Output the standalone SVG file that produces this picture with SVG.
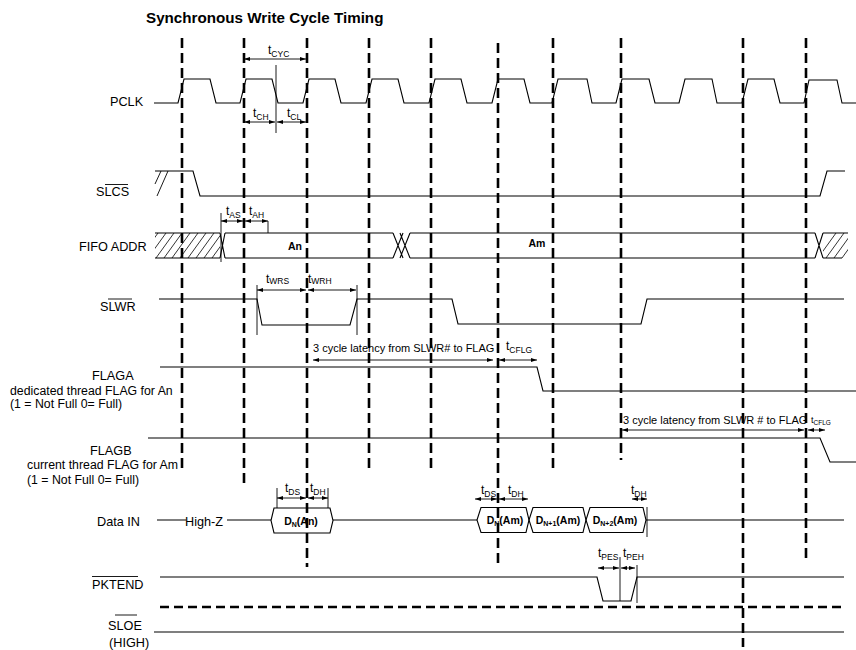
<svg xmlns="http://www.w3.org/2000/svg" width="856" height="650" viewBox="0 0 856 650">
<style>
text{font-family:"Liberation Sans",Arial,sans-serif;fill:#000}
.lbl{font-size:12.7px}
.dsc{font-size:12.3px}
.t{font-size:12px}
.sub{font-size:8.5px}
.lat{font-size:11px}
.box{font-size:10.5px;font-weight:bold}
.bsub{font-size:7px}
.sig{fill:none;stroke:#000;stroke-width:1.1}
.thin{fill:none;stroke:#000;stroke-width:0.9}
.grid{fill:none;stroke:#000;stroke-width:2.6;stroke-dasharray:10,5}
.hdash{fill:none;stroke:#000;stroke-width:2.4;stroke-dasharray:9,5}
.arr{fill:none;stroke:#000;stroke-width:0.9;marker-start:url(#ah);marker-end:url(#ah)}
.hatch{stroke:#000;stroke-width:0.8}
</style>
<defs>
<marker id="ah" viewBox="0 0 10 10" refX="10" refY="5" markerWidth="6" markerHeight="6" orient="auto-start-reverse" markerUnits="userSpaceOnUse"><path d="M0,1.5 L10,5 L0,8.5 z" fill="#000"/></marker>
<clipPath id="hl"><rect x="155" y="233" width="65" height="25"/></clipPath>
<clipPath id="hr"><rect x="823" y="233" width="25" height="25"/></clipPath>
</defs>
<rect width="856" height="650" fill="#fff"/>
<text x="146" y="23" style="font-size:15.2px;font-weight:bold">Synchronous Write Cycle Timing</text>

<g id="grid">
<path class="grid" d="M182,38V470M244,38V483M307,38V567M369,38V470M431,38V470M498,43V563M553,38V470M621,38V460M743,38V647M806,38V558"/>
<path class="hdash" d="M160,607H844"/>
</g>

<g id="pclk">
<text class="lbl" x="110" y="106">PCLK</text>
<path class="sig" d="M154,103 L178,103 L184,79 L210,79 L216,103 L240,103 L246,79 L272,79 L278,103 L303,103 L309,79 L335,79 L341,103 L366,103 L372,79 L398,79 L404,103 L429,103 L435,79 L461,79 L467,103 L492,103 L498,79 L524,79 L530,103 L552,103 L558,79 L587,79 L592,103 L616,103 L622,79 L649,79 L655,103 L679,103 L685,79 L712,79 L717,103 L742,103 L748,79 L774,79 L780,103 L804,103 L809,80 L837,80 L842,103 L856,103"/>
</g>

<g id="slcs">
<text class="lbl" x="96" y="196">SLCS</text>
<path class="thin" d="M105,184.5H128"/>
<path class="sig" d="M155,171 L193,171 L200,196 L820,196 L827,171 L845,171"/>
<path class="thin" d="M155,184 L161,171 M157,196 L168,171"/>
</g>

<g id="fifoaddr">
<text class="lbl" x="79" y="251">FIFO ADDR</text>
<g clip-path="url(#hl)">
<path class="hatch" d="M140,258L158,233M148,258L166,233M156,258L174,233M164,258L182,233M172,258L190,233M180,258L198,233M188,258L206,233M196,258L214,233M204,258L222,233M212,258L230,233"/>
</g>
<g clip-path="url(#hr)">
<path class="hatch" d="M818,258L836,233M826,258L844,233M834,258L852,233M842,258L860,233"/>
</g>
<path class="sig" d="M155,233H220M225,233H393M410,233H815M823,233H848M155,258H220M225,258H393M410,258H815M823,258H842"/>
<path class="sig" d="M220,233L225,258M220,258L225,233M393,233L403,258M393,258L403,233M400,233L410,258M400,258L410,233M815,233L823,258M815,258L823,233"/>
<text class="box" x="295" y="250" text-anchor="middle">An</text>
<text class="box" x="537" y="247" text-anchor="middle">Am</text>
</g>

<g id="slwr">
<text class="lbl" x="100" y="311">SLWR</text>
<path class="thin" d="M108,299H132"/>
<path class="sig" d="M159,299 L257,299 L262,325 L350,325 L357,299 L452,299 L458,324 L641,324 L647,299 L844,299"/>
</g>

<g id="flaga">
<text class="lbl" x="92" y="380">FLAGA</text>
<text class="dsc" x="10" y="395">dedicated thread FLAG for An</text>
<text class="dsc" x="10" y="408">(1 = Not Full 0= Full)</text>
<path class="sig" d="M160,367 L537,367 L543,391 L856,391"/>
</g>

<g id="flagb">
<text class="lbl" x="90" y="455">FLAGB</text>
<text class="dsc" x="27" y="469">current thread FLAG for Am</text>
<text class="dsc" x="27" y="484">(1 = Not Full 0= Full)</text>
<path class="sig" d="M148,438 L820,438 L830,462 L856,462"/>
</g>

<g id="datain">
<text class="lbl" x="97" y="526">Data IN</text>
<text class="lbl" x="185" y="526">High-Z</text>
<path class="sig" d="M157,520H186M227,520H271M333,520H477M646,520H844"/>
<path class="sig" d="M271,520.5 L274,508 L330,508 L333,520.5 L330,533 L274,533 Z"/>
<path class="sig" d="M477,520 L481,507.5 L526,507.5 L529,520 L526,532.5 L481,532.5 Z"/>
<path class="sig" d="M529,520 L533,507.5 L583,507.5 L586,520 L583,532.5 L533,532.5 Z"/>
<path class="sig" d="M586,520 L590,507.5 L643,507.5 L646,520 L643,532.5 L590,532.5 Z"/>
<text class="box" x="301" y="525" text-anchor="middle">D<tspan class="bsub" dy="2">N</tspan><tspan dy="-2">(An)</tspan></text>
<text class="box" x="505" y="524" text-anchor="middle">D<tspan class="bsub" dy="2">N</tspan><tspan dy="-2">(Am)</tspan></text>
<text class="box" x="558" y="524" text-anchor="middle">D<tspan class="bsub" dy="2">N+1</tspan><tspan dy="-2">(Am)</tspan></text>
<text class="box" x="615" y="524" text-anchor="middle">D<tspan class="bsub" dy="2">N+2</tspan><tspan dy="-2">(Am)</tspan></text>
</g>

<g id="pktend">
<text class="lbl" x="92" y="589">PKTEND</text>
<path class="thin" d="M92,576.5H138"/>
<path class="sig" d="M160,577 L597,577 L603,601 L631,601 L637,577 L844,577"/>
</g>

<g id="sloe">
<text class="lbl" x="108" y="630">SLOE</text>
<path class="thin" d="M115,615H137"/>
<text class="lbl" x="109" y="647">(HIGH)</text>
<path class="sig" d="M154,632H844"/>
</g>

<g id="connectors">
<path class="thin" d="M276,65V133M221,213V262M268,221V233M257,285V335M357,285V335M277,488V508M328,488V508M647,507V537M620,557V601M637,565V603"/>
<path class="arr" d="M244,59H306"/>
<path class="arr" d="M244,122H275"/>
<path class="arr" d="M277,122H306"/>
<path class="arr" d="M221,221H243"/>
<path class="arr" d="M245,221H268"/>
<path class="arr" d="M257,290H306"/>
<path class="arr" d="M308,290H356"/>
<path class="arr" d="M313,360H493"/>
<path class="arr" d="M499,360H537"/>
<path class="arr" d="M622,430H804"/>
<path class="arr" d="M808,430H825"/>
<path class="arr" d="M277,498H306"/>
<path class="arr" d="M308,498H328"/>
<path class="arr" d="M475,499H497"/>
<path class="arr" d="M499,499H528"/>
<path class="arr" d="M632,499H647"/>
<path class="arr" d="M598,568H619"/>
<path class="arr" d="M621,568H635"/>
</g>

<g id="annotations">
<text class="t" x="268" y="54">t<tspan class="sub" dy="3">CYC</tspan></text>
<text class="t" x="253" y="117">t<tspan class="sub" dy="3">CH</tspan></text>
<text class="t" x="287" y="117">t<tspan class="sub" dy="3">CL</tspan></text>
<text class="t" x="226" y="215">t<tspan class="sub" dy="3">AS</tspan></text>
<text class="t" x="249" y="215">t<tspan class="sub" dy="3">AH</tspan></text>
<text class="t" x="266" y="283">t<tspan class="sub" dy="1">WRS</tspan></text>
<text class="t" x="308" y="283">t<tspan class="sub" dy="1">WRH</tspan></text>
<text class="lat" x="313" y="352">3 cycle latency from SLWR# to FLAG</text>
<text class="t" x="506" y="350">t<tspan class="sub" dy="3">CFLG</tspan></text>
<text class="lat" x="623" y="424">3 cycle latency from SLWR # to FLAG</text>
<text x="811" y="423" style="font-size:9px">t<tspan style="font-size:6.5px" dy="2">CFLG</tspan></text>
<text class="t" x="285" y="492">t<tspan class="sub" dy="3">DS</tspan></text>
<text class="t" x="310" y="492">t<tspan class="sub" dy="3">DH</tspan></text>
<text class="t" x="481" y="494">t<tspan class="sub" dy="3">DS</tspan></text>
<text class="t" x="508" y="494">t<tspan class="sub" dy="3">DH</tspan></text>
<text class="t" x="631" y="494">t<tspan class="sub" dy="3">DH</tspan></text>
<text class="t" x="598" y="557">t<tspan class="sub" dy="3">PES</tspan></text>
<text class="t" x="623" y="557">t<tspan class="sub" dy="3">PEH</tspan></text>
</g>
</svg>
